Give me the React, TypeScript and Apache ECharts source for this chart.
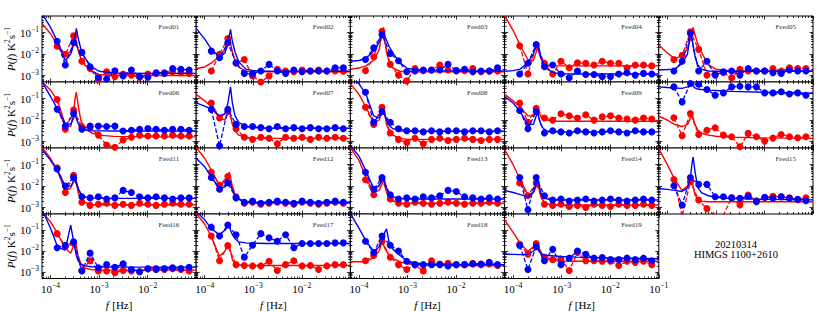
import { useEffect, useRef } from 'react';
import * as echarts from 'echarts';

// ---------- data (power values stored as log10 P) ----------
const freqs = [1.365e-4, 2.018e-4, 2.985e-4, 4.416e-4, 6.53e-4, 9.66e-4, 1.429e-3, 2.113e-3, 3.126e-3, 4.624e-3, 6.84e-3, 1.012e-2, 1.496e-2, 2.213e-2, 3.273e-2, 4.842e-2, 7.16e-2];
const fitFreqs = [6.67e-5, 1e-4, 1.4e-4, 2e-4, 2.6e-4, 3.0e-4, 3.2e-4, 3.4e-4, 3.7e-4, 4.2e-4, 5e-4, 7e-4, 1e-3, 2e-3, 1e-2, 1e-1];

const xMajor = [1e-4, 1e-3, 1e-2, 1e-1];
const xLabelsInner = [1e-4, 1e-3, 1e-2];
const xMinor = [7e-5, 8e-5, 9e-5, 2e-4, 3e-4, 4e-4, 5e-4, 6e-4, 7e-4, 8e-4, 9e-4, 2e-3, 3e-3, 4e-3, 5e-3, 6e-3, 7e-3, 8e-3, 9e-3, 2e-2, 3e-2, 4e-2, 5e-2, 6e-2, 7e-2, 8e-2, 9e-2];
const yMajor = [1e-3, 1e-2, 1e-1];
const yMinor = [5e-4, 6e-4, 7e-4, 8e-4, 9e-4, 2e-3, 3e-3, 4e-3, 5e-3, 6e-3, 7e-3, 8e-3, 9e-3, 2e-2, 3e-2, 4e-2, 5e-2, 6e-2, 7e-2, 8e-2, 9e-2, 2e-1, 3e-1, 4e-1, 5e-1, 6e-1];

const red01 = [-1.63, -2.01, -1.15, -2.33, -2.67, -3.2, -2.82, -3.05, -2.93, -2.98, -3.08, -2.93, -2.9, -2.87, -2.82, -2.87, -2.9];
const blue01 = [-1.40, -2.51, -1.46, -1.92, -2.59, -3.10, -3.16, -2.78, -3.02, -2.74, -3.05, -3.08, -2.87, -2.9, -2.67, -2.71, -2.74];
const redFit01 = [-0.57, -1.05, -1.58, -2.0, -1.9, -1.45, -1.05, -1.4, -1.8, -2.2, -2.5, -2.8, -2.95, -3.0, -3.0, -3.0];
const blueFit01 = [-0.1, -0.75, -1.43, -2.3, -2.0, -1.55, -1.2, -0.8, -1.25, -1.75, -2.15, -2.6, -2.8, -2.88, -2.9, -2.9];

const red02 = [-2.79, -2.01, -1.27, -2.43, -2.25, -3.02, -3.3, -3.02, -2.71, -2.79, -2.82, -2.74, -2.79, -2.74, -2.79, -2.79, -2.8];
const blue02 = [-1.86, -2.17, -1.47, -2.40, -2.90, -2.93, -2.79, -2.48, -2.79, -2.9, -2.74, -2.82, -2.79, -2.79, -2.79, -2.64, -2.64];
const redFit02 = [-2.67, -2.6, -2.4, -2.1, -1.8, -1.4, -1.2, -1.45, -1.9, -2.3, -2.6, -2.8, -2.83, -2.83, -2.83, -2.83];
const blueFit02 = [-0.8, -1.3, -1.8, -2.12, -1.95, -1.55, -1.15, -0.85, -1.4, -1.9, -2.35, -2.7, -2.77, -2.8, -2.8, -2.8];

const red03 = [-2.78, -2.13, -0.93, -2.48, -2.98, -3.25, -2.67, -2.77, -2.74, -2.51, -2.74, -2.77, -2.77, -2.67, -2.82, -2.79, -2.79];
const blue03 = [-2.25, -1.71, -1.09, -1.97, -2.31, -2.82, -2.79, -2.74, -2.74, -2.74, -2.48, -2.77, -2.71, -2.82, -2.79, -2.79, -2.64];
const redFit03 = [-2.7, -2.65, -2.55, -2.3, -1.8, -1.0, -0.75, -1.3, -1.9, -2.4, -2.65, -2.8, -2.83, -2.83, -2.83, -2.83];
const blueFit03 = [-2.33, -2.3, -2.2, -1.85, -1.45, -1.15, -1.05, -1.15, -1.35, -1.65, -1.95, -2.4, -2.67, -2.77, -2.79, -2.79];

const red04 = [-1.61, -2.93, -1.58, -2.43, -2.93, -2.33, -2.64, -2.4, -2.43, -2.51, -2.33, -2.43, -2.43, -2.64, -2.51, -2.51, -2.55];
const blue04 = [-2.93, -2.43, -1.55, -2.59, -2.51, -2.93, -3.10, -2.79, -2.95, -2.95, -3.05, -3.05, -2.93, -2.87, -2.98, -2.9, -2.93];
const redFit04 = [-0.2, -0.9, -1.6, -2.25, -2.3, -1.9, -1.6, -1.9, -2.2, -2.4, -2.5, -2.54, -2.55, -2.55, -2.55, -2.55];
const blueFit04 = [-2.8, -2.77, -2.7, -2.4, -2.0, -1.6, -1.5, -1.7, -2.1, -2.45, -2.7, -2.88, -2.92, -2.93, -2.93, -2.93];

const red05 = [-2.25, -2.05, -0.96, -1.78, -2.98, -2.93, -2.87, -3.1, -2.71, -2.79, -2.79, -2.79, -2.67, -2.79, -2.64, -2.67, -2.67];
const blue05 = [-2.79, -2.33, -1.04, -2.79, -2.33, -2.98, -2.82, -2.79, -2.98, -2.67, -2.79, -2.79, -2.87, -2.9, -2.74, -2.79, -2.79];
const redFit05 = [-1.58, -1.95, -2.2, -2.1, -1.75, -1.3, -1.0, -0.75, -1.1, -1.5, -1.9, -2.5, -2.7, -2.78, -2.78, -2.78];
const blueFit05 = [-2.74, -2.72, -2.7, -2.45, -2.0, -1.0, -1.2, -1.6, -2.1, -2.5, -2.7, -2.79, -2.8, -2.8, -2.8, -2.8];

const red06 = [-1.04, -2.43, -1.53, -2.31, -2.34, -2.70, -3.16, -3.27, -2.93, -2.8, -2.70, -2.74, -2.74, -2.74, -2.70, -2.74, -2.74];
const blue06 = [-1.49, -2.28, -1.69, -2.43, -2.28, -2.28, -2.3, -2.28, -2.51, -2.47, -2.43, -2.39, -2.43, -2.47, -2.43, -2.43, -2.47];
const redFit06 = [-0.22, -0.6, -1.1, -2.2, -2.3, -1.6, -1.0, -0.7, -1.3, -2.0, -2.4, -2.6, -2.7, -2.76, -2.78, -2.78];
const blueFit06 = [-0.2, -0.9, -1.5, -2.15, -2.2, -1.9, -1.7, -1.9, -2.15, -2.35, -2.45, -2.5, -2.5, -2.51, -2.51, -2.51];

const red07 = [-1.2, -1.9, -1.6, -2.4, -2.8, -2.9, -2.8, -2.85, -3.1, -2.8, -2.85, -2.8, -2.9, -2.8, -2.85, -2.8, -2.85];
const blue07 = [-1.5, -3.2, -1.5, -2.2, -2.3, -2.3, -2.35, -2.4, -2.3, -2.4, -2.35, -2.4, -2.35, -2.4, -2.4, -2.35, -2.4];
const redFit07 = [-0.8, -1.1, -1.4, -1.9, -2.0, -1.7, -1.5, -1.8, -2.2, -2.5, -2.7, -2.8, -2.85, -2.85, -2.85, -2.85];
const blueFit07 = [-1.2, -1.35, -1.5, -1.8, -1.7, -1.2, -0.8, -0.45, -1.2, -1.8, -2.1, -2.3, -2.35, -2.38, -2.38, -2.38];

const red08 = [-1.4, -2.2, -1.4, -2.6, -2.9, -3.05, -2.85, -3.1, -2.9, -2.85, -2.95, -2.9, -2.85, -2.9, -2.95, -2.9, -2.9];
const blue08 = [-0.7, -2.1, -1.6, -2.1, -2.4, -2.5, -2.5, -2.55, -2.5, -2.55, -2.5, -2.5, -2.55, -2.5, -2.5, -2.55, -2.5];
const redFit08 = [-0.3, -0.8, -1.4, -2.1, -2.0, -1.6, -1.4, -1.7, -2.2, -2.5, -2.7, -2.85, -2.9, -2.9, -2.9, -2.9];
const blueFit08 = [0, -0.3, -0.8, -1.8, -1.9, -1.7, -1.5, -1.7, -2.0, -2.25, -2.4, -2.5, -2.52, -2.52, -2.52, -2.52];

const red09 = [-1.2, -2.1, -1.45, -1.9, -2.0, -1.7, -1.8, -1.9, -1.75, -2.0, -1.85, -1.8, -1.9, -1.95, -2.0, -1.9, -1.95];
const blue09 = [-1.55, -2.4, -1.6, -2.6, -2.5, -2.55, -2.6, -2.5, -2.55, -2.6, -2.55, -2.5, -2.55, -2.6, -2.5, -2.55, -2.55];
const redFit09 = [-0.8, -1.1, -1.4, -1.8, -1.8, -1.5, -1.4, -1.6, -1.85, -1.95, -2.0, -2.05, -2.05, -2.05, -2.05, -2.05];
const blueFit09 = [-0.9, -1.2, -1.6, -2.2, -2.2, -1.8, -1.6, -1.9, -2.2, -2.4, -2.5, -2.55, -2.55, -2.55, -2.55, -2.55];

const red10 = [-1.89, -2.73, -1.69, -2.67, -2.47, -2.36, -2.70, -2.78, -3.24, -2.62, -2.78, -2.98, -2.84, -2.67, -2.78, -2.82, -2.78];
const blue10 = [-0.45, -1.15, -0.29, -0.33, -0.57, -0.84, -0.73, -0.45, -0.42, -0.45, -0.45, -0.73, -0.73, -0.68, -0.78, -0.73, -0.84];
const redFit10 = [-1.82, -2.0, -2.2, -2.3, -2.2, -1.9, -1.7, -1.9, -2.2, -2.45, -2.6, -2.7, -2.75, -2.8, -2.83, -2.85];
const blueFit10 = [-0.45, -0.48, -0.5, -0.52, -0.45, -0.35, -0.3, -0.4, -0.5, -0.55, -0.57, -0.6, -0.62, -0.66, -0.7, -0.75];

const red11 = [-1.15, -2.3, -1.5, -2.75, -2.9, -2.85, -2.8, -2.9, -2.85, -2.9, -2.8, -2.85, -2.9, -2.85, -2.8, -2.85, -2.85];
const blue11 = [-1.2, -2.0, -1.6, -2.5, -2.55, -2.5, -2.6, -2.55, -2.2, -2.3, -2.5, -2.55, -2.5, -2.55, -2.6, -2.55, -2.55];
const redFit11 = [-0.2, -0.7, -1.3, -2.2, -2.1, -1.7, -1.4, -1.8, -2.3, -2.6, -2.75, -2.85, -2.87, -2.87, -2.87, -2.87];
const blueFit11 = [-0.3, -0.8, -1.3, -2.0, -2.0, -1.8, -1.6, -1.8, -2.1, -2.35, -2.5, -2.55, -2.57, -2.57, -2.57, -2.57];

const red12 = [-1.35, -1.95, -1.55, -2.5, -2.8, -2.75, -2.85, -2.8, -2.75, -2.8, -2.85, -2.75, -2.8, -2.85, -2.8, -2.75, -2.8];
const blue12 = [-1.6, -2.15, -1.85, -2.55, -2.75, -2.7, -2.8, -2.75, -2.7, -2.75, -2.8, -2.7, -2.75, -2.8, -2.75, -2.7, -2.75];
const redFit12 = [-0.2, -0.7, -1.3, -1.95, -1.8, -1.5, -1.35, -1.6, -2.0, -2.4, -2.6, -2.75, -2.8, -2.8, -2.8, -2.8];
const blueFit12 = [-0.7, -1.1, -1.6, -2.1, -2.05, -1.85, -1.75, -1.9, -2.2, -2.45, -2.6, -2.72, -2.75, -2.75, -2.75, -2.75];

const red13 = [-1.7, -2.4, -1.7, -2.6, -2.8, -2.85, -2.75, -2.8, -2.85, -2.8, -2.75, -2.8, -2.85, -2.8, -2.8, -2.75, -2.8];
const blue13 = [-1.35, -2.15, -1.6, -2.4, -2.6, -2.55, -2.6, -2.5, -2.55, -2.45, -2.2, -2.25, -2.5, -2.55, -2.6, -2.55, -2.6];
const redFit13 = [-0.2, -0.8, -1.6, -2.3, -2.2, -1.9, -1.7, -1.95, -2.3, -2.55, -2.7, -2.78, -2.8, -2.8, -2.8, -2.8];
const blueFit13 = [-0.1, -0.6, -1.3, -2.1, -2.0, -1.7, -1.55, -1.8, -2.1, -2.35, -2.5, -2.57, -2.6, -2.6, -2.6, -2.6];

const red14 = [-1.85, -2.45, -1.85, -2.85, -2.9, -2.85, -2.95, -2.9, -3.0, -2.85, -2.9, -2.95, -2.85, -2.9, -2.9, -2.85, -2.9];
const blue14 = [-1.6, -3.1, -1.6, -2.45, -2.65, -2.6, -2.7, -2.65, -2.6, -2.7, -2.65, -2.6, -2.65, -2.7, -2.65, -2.6, -2.65];
const redFit14 = [-0.3, -1.0, -1.7, -2.4, -2.3, -2.0, -1.8, -2.1, -2.5, -2.7, -2.82, -2.87, -2.88, -2.88, -2.88, -2.88];
const blueFit14 = [-2.2, -2.3, -2.4, -2.5, -2.3, -1.9, -1.6, -1.9, -2.3, -2.5, -2.6, -2.65, -2.65, -2.65, -2.65, -2.65];

const red15 = [-1.69, -3.4, -1.8, -2.65, -3.05, -3.4, -3.35, -2.54, -2.88, -2.42, -2.68, -2.54, -2.47, -2.5, -2.54, -2.64, -2.54];
const blue15 = [-1.98, -2.88, -1.60, -1.92, -1.92, -2.50, -2.50, -2.54, -2.57, -2.47, -2.73, -2.52, -2.57, -2.50, -2.57, -2.62, -2.68];
const redFit15 = [-0.25, -1.0, -1.67, -2.2, -2.0, -1.8, -1.7, -2.0, -2.4, -2.6, -2.7, -2.73, -2.73, -2.73, -2.73, -2.73];
const blueFit15 = [-2.11, -2.15, -2.2, -2.25, -2.1, -1.6, -1.0, -0.64, -1.3, -2.05, -2.3, -2.45, -2.52, -2.58, -2.62, -2.64];

const red16 = [-1.16, -1.78, -1.63, -2.92, -2.45, -2.94, -2.94, -3.02, -2.92, -2.94, -2.98, -2.84, -2.83, -2.87, -2.83, -2.87, -2.94];
const blue16 = [-1.83, -1.71, -1.55, -2.94, -2.09, -2.79, -2.64, -2.76, -2.60, -2.87, -2.98, -2.84, -2.87, -2.82, -2.79, -2.82, -2.76];
const redFit16 = [-0.1, -0.6, -1.16, -1.85, -2.1, -1.7, -1.5, -1.75, -2.2, -2.6, -2.8, -2.88, -2.9, -2.9, -2.9, -2.9];
const blueFit16 = [0, -0.9, -1.8, -1.95, -0.75, -1.55, -1.9, -2.2, -2.45, -2.6, -2.7, -2.74, -2.76, -2.76, -2.76, -2.76];

const red17 = [-1.27, -2.45, -1.73, -2.64, -2.68, -2.70, -2.70, -2.48, -2.92, -2.64, -2.45, -2.70, -2.68, -2.87, -2.70, -2.64, -2.64];
const blue17 = [-0.85, -1.27, -0.75, -1.21, -2.29, -1.71, -1.16, -1.36, -1.52, -1.21, -1.83, -1.63, -1.63, -1.63, -1.63, -1.6, -1.6];
const redFit17 = [-0.2, -0.7, -1.35, -2.25, -2.0, -1.7, -1.7, -2.0, -2.4, -2.6, -2.65, -2.68, -2.68, -2.68, -2.68, -2.68];
const blueFit17 = [-0.1, -0.5, -0.95, -1.2, -1.0, -0.8, -0.8, -1.0, -1.2, -1.4, -1.55, -1.6, -1.62, -1.63, -1.63, -1.63];

const red18 = [-2.45, -2.2, -1.52, -2.29, -2.64, -2.87, -2.65, -2.94, -2.45, -2.61, -2.57, -2.64, -2.64, -2.57, -2.64, -2.61, -2.68];
const blue18 = [-1.52, -2.06, -1.27, -1.71, -1.99, -2.48, -2.64, -2.64, -2.64, -2.64, -2.70, -2.64, -2.64, -2.61, -2.61, -2.53, -2.64];
const redFit18 = [-2.5, -2.5, -2.5, -2.3, -2.0, -1.55, -1.7, -1.85, -2.0, -2.2, -2.35, -2.5, -2.6, -2.66, -2.68, -2.68];
const blueFit18 = [-0.2, -0.9, -1.52, -2.0, -1.8, -1.5, -1.3, -1.1, -0.93, -1.6, -1.9, -2.2, -2.48, -2.6, -2.64, -2.64];

const red19 = [-1.67, -2.14, -1.63, -2.29, -2.40, -2.37, -2.92, -2.06, -2.45, -2.45, -2.48, -2.48, -2.68, -2.48, -2.53, -2.48, -2.64];
const blue19 = [-1.73, -2.87, -1.78, -2.45, -1.91, -2.64, -2.33, -1.99, -2.14, -2.33, -2.3, -2.40, -2.40, -2.33, -2.40, -2.33, -2.45];
const redFit19 = [-0.5, -1.1, -1.63, -2.0, -1.8, -1.6, -1.55, -1.8, -2.1, -2.3, -2.4, -2.45, -2.47, -2.48, -2.48, -2.48];
const blueFit19 = [-2.14, -2.15, -2.16, -2.15, -2.0, -1.85, -1.8, -1.95, -2.1, -2.15, -2.2, -2.22, -2.25, -2.28, -2.32, -2.36];

const feedNames = ['Feed01', 'Feed02', 'Feed03', 'Feed04', 'Feed05', 'Feed06', 'Feed07', 'Feed08', 'Feed09', 'Feed10', 'Feed11', 'Feed12', 'Feed13', 'Feed14', 'Feed15', 'Feed16', 'Feed17', 'Feed18', 'Feed19'];
const redPts = [red01, red02, red03, red04, red05, red06, red07, red08, red09, red10, red11, red12, red13, red14, red15, red16, red17, red18, red19];
const bluePts = [blue01, blue02, blue03, blue04, blue05, blue06, blue07, blue08, blue09, blue10, blue11, blue12, blue13, blue14, blue15, blue16, blue17, blue18, blue19];
const redFits = [redFit01, redFit02, redFit03, redFit04, redFit05, redFit06, redFit07, redFit08, redFit09, redFit10, redFit11, redFit12, redFit13, redFit14, redFit15, redFit16, redFit17, redFit18, redFit19];
const blueFits = [blueFit01, blueFit02, blueFit03, blueFit04, blueFit05, blueFit06, blueFit07, blueFit08, blueFit09, blueFit10, blueFit11, blueFit12, blueFit13, blueFit14, blueFit15, blueFit16, blueFit17, blueFit18, blueFit19];

const dateText = '20210314';
const sourceText = 'HIMGS 1100+2610';

// ---------- style / layout ----------
const RED = '#ff0000';
const BLUE = '#0000ff';
const XMIN = 6.67e-5, XMAX = 0.1, YMIN = 5e-4, YMAX = 0.6;
const LEFT = 42, TOP = 16, PW = 154.2, PH = 66;
const FONT = '"Liberation Serif", "DejaVu Serif", serif';

const supRich = {
  b: { fontSize: 11, fontFamily: FONT, color: '#000', lineHeight: 15 },
  s: { fontSize: 7.5, fontFamily: FONT, color: '#000', verticalAlign: 'top', lineHeight: 8 },
  i: { fontSize: 11, fontFamily: FONT, fontStyle: 'italic', color: '#000', lineHeight: 15 },
  r: { fontSize: 11, fontFamily: FONT, color: '#000', lineHeight: 15 },
};

const powLabel = (v: number) => {
  const e = Math.round(Math.log10(v));
  return `{b|10}{s|\u2212${-e}}`;
};

function buildOption() {
  const grid: any[] = [];
  const xAxis: any[] = [];
  const yAxis: any[] = [];
  const series: any[] = [];
  const graphic: any[] = [];

  feedNames.forEach((name, g) => {
    const r = Math.floor(g / 5);
    const c = g % 5;
    const left = LEFT + c * PW;
    const top = TOP + r * PH;
    grid.push({ left, top, width: PW, height: PH, show: true, borderColor: '#000', borderWidth: 1, backgroundColor: '#fff', z: 0 });
    const showX = r === 3;
    const showY = c === 0;
    const labelVals = c === 3 ? xMajor : xLabelsInner;

    const xa = (position: string, vals: number[], len: number, label: boolean) => ({
      type: 'log', logBase: 10, gridIndex: g, position, min: XMIN, max: XMAX,
      axisLine: { show: false }, splitLine: { show: false },
      axisTick: { show: true, inside: true, length: len, customValues: vals, lineStyle: { color: '#000', width: 0.8 } },
      axisLabel: label ? { show: true, customValues: labelVals, margin: 3, formatter: powLabel, rich: supRich } : { show: false },
      name: label ? '{i|f} {r|[Hz]}' : '', nameLocation: 'middle', nameGap: 19,
      nameTextStyle: { rich: supRich },
      silent: true, axisPointer: { show: false },
    });
    xAxis.push(xa('bottom', xMajor, 3.5, showX));
    xAxis.push(xa('bottom', xMinor, 2, false));
    xAxis.push(xa('top', xMajor, 3.5, false));
    xAxis.push(xa('top', xMinor, 2, false));

    const ya = (position: string, vals: number[], len: number, label: boolean) => ({
      type: 'log', logBase: 10, gridIndex: g, position, min: YMIN, max: YMAX,
      axisLine: { show: false }, splitLine: { show: false },
      axisTick: { show: true, inside: true, length: len, customValues: vals, lineStyle: { color: '#000', width: 0.8 } },
      axisLabel: label ? { show: true, customValues: yMajor, margin: 3, formatter: powLabel, rich: supRich } : { show: false },
      name: label ? '{i|P}{r|(}{i|f}{r|) K}{s|2}{r|s}{s|\u22121}' : '', nameLocation: 'middle', nameGap: 24, nameRotate: 90,
      nameTextStyle: { rich: supRich },
      silent: true, axisPointer: { show: false },
    });
    yAxis.push(ya('left', yMajor, 3.5, showY));
    yAxis.push(ya('left', yMinor, 2, false));
    yAxis.push(ya('right', yMajor, 3.5, false));
    yAxis.push(ya('right', yMinor, 2, false));

    const ax = 4 * g;
    const pts = (vals: number[]) => freqs.map((f, i) => [f, Math.pow(10, vals[i])]);
    const fit = (vals: number[]) => fitFreqs.map((f, i) => [f, Math.pow(10, vals[i])]);
    const common = { type: 'line', xAxisIndex: ax, yAxisIndex: ax, clip: true, silent: true, animation: false };
    series.push({ ...common, data: pts(redPts[g]), symbol: 'circle', symbolSize: 7, itemStyle: { color: RED }, lineStyle: { color: RED, width: 1.3, type: [4.5, 2] }, z: 3 });
    series.push({ ...common, data: fit(redFits[g]), symbol: 'none', showSymbol: false, lineStyle: { color: RED, width: 1.4 }, z: 3 });
    series.push({ ...common, data: pts(bluePts[g]), symbol: 'circle', symbolSize: 7, itemStyle: { color: BLUE }, lineStyle: { color: BLUE, width: 1.3, type: [4.5, 2] }, z: 4 });
    series.push({ ...common, data: fit(blueFits[g]), symbol: 'none', showSymbol: false, lineStyle: { color: BLUE, width: 1.4 }, z: 4 });

    graphic.push({
      type: 'text', x: left + PW - 17, y: top + 11, z: 2, silent: true,
      style: { text: name, font: `7px ${FONT}`, fill: '#333', align: 'right', verticalAlign: 'middle' },
    });
  });

  graphic.push({
    type: 'text', x: LEFT + 4 * PW + PW / 2, y: TOP + 3 * PH + 30, silent: true,
    style: { text: dateText, font: `10.5px ${FONT}`, fill: '#000', align: 'center', verticalAlign: 'middle' },
  });
  graphic.push({
    type: 'text', x: LEFT + 4 * PW + PW / 2, y: TOP + 3 * PH + 40.5, silent: true,
    style: { text: sourceText, font: `10.5px ${FONT}`, fill: '#000', align: 'center', verticalAlign: 'middle' },
  });

  return {
    animation: false,
    backgroundColor: '#fff',
    grid, xAxis, yAxis, series, graphic,
  };
}

export default function App() {
  const ref = useRef<HTMLDivElement>(null);
  useEffect(() => {
    document.body.style.margin = '0';
    if (!ref.current) return;
    const chart = echarts.init(ref.current, undefined, { renderer: 'svg' });
    chart.setOption(buildOption() as any);
    return () => chart.dispose();
  }, []);
  return <div ref={ref} style={{ width: 830, height: 312 }} />;
}
